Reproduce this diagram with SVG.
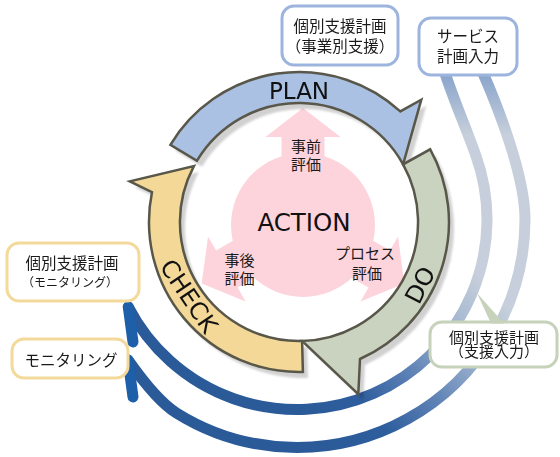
<svg xmlns="http://www.w3.org/2000/svg" width="560" height="457" viewBox="0 0 560 457">
<style>
.seg{stroke:#59574a;stroke-width:2.5;stroke-linejoin:miter}
.shadow{fill:#000;fill-opacity:0.18}
.lat{font-family:"DejaVu Sans","Verdana",sans-serif;fill:#111}
.jp{font-family:"Noto Sans CJK JP","Noto Sans",sans-serif;fill:#1a1a1a;text-anchor:middle}
.box{fill:#fff;stroke-width:3}
.bb{stroke:#9db5de}
.yb{stroke:#f3d99a}
.gb{stroke:#c6d2ba}
.pink{fill:#fdd4dc}
.flow{fill:none;stroke-width:11;stroke-linecap:round}
</style>
<defs>
<linearGradient id="flowGrad" gradientUnits="userSpaceOnUse" x1="500" y1="300" x2="330" y2="450">
<stop offset="0" stop-color="#c6cfdb"/>
<stop offset="0.25" stop-color="#9fb3cf"/>
<stop offset="0.5" stop-color="#5f83b6"/>
<stop offset="0.75" stop-color="#2f5e9e"/>
<stop offset="1" stop-color="#2a5a98"/>
</linearGradient>
<linearGradient id="topFade" gradientUnits="userSpaceOnUse" x1="0" y1="75" x2="0" y2="135">
<stop offset="0" stop-color="#8aa5cc" stop-opacity="1"/>
<stop offset="1" stop-color="#8aa5cc" stop-opacity="0"/>
</linearGradient>
<filter id="blur" x="-10%" y="-10%" width="120%" height="120%"><feGaussianBlur stdDeviation="1.2"/></filter>
<path id="planShape" d="M 170.4 144.8 A 150 150 0 0 1 400.3 111.4 L 421.3 99.7 L 403.1 164.3 A 119 119 0 0 0 197.0 160.7 Z"/>
<path id="doShape" d="M 430.2 149.3 A 150 150 0 0 1 360.0 359.0 L 358.3 394.1 L 302.1 341.0 A 119 119 0 0 0 403.1 164.3 Z"/>
<path id="checkShape" d="M 302.9 371.9 A 150 150 0 0 1 152.0 192.1 L 129.8 181.4 L 193.9 166.1 A 119 119 0 0 0 302.1 341.0 Z"/>
</defs>
<rect width="560" height="457" fill="#fff"/>

<g id="connectors">
<path class="flow" stroke="url(#flowGrad)" d="M 445 73 C 453 98 466 128 475.5 154.5 A 190 190 0 0 1 128.3 307"/>
<path class="flow" stroke="url(#topFade)" d="M 445 73 C 453 98 466 128 475.5 154.5"/>
<path class="flow" stroke="#1d5fa8" d="M 128.3 307 L 133 342"/>
<path class="flow" stroke="url(#flowGrad)" d="M 483 73 C 497 105 525 175 525 219.5 A 228 228 0 0 1 176.2 412.8 C 159.2 402.2 140 377 128 360"/>
<path class="flow" stroke="url(#topFade)" d="M 483 73 C 497 105 525 175 525 219.5"/>
<path class="flow" stroke="#1d5fa8" d="M 128 360 L 133 397"/>
</g>

<g id="action">
<circle class="pink" cx="303" cy="225" r="72"/>
<polygon class="pink" points="303,108 340.5,137 324.5,137 324.5,225 281.5,225 281.5,137 265.5,137"/>
<polygon class="pink" points="404.3,283.5 360.5,301.5 368.5,287.6 292.3,243.6 313.8,206.4 390.0,250.4 398.0,236.5"/>
<polygon class="pink" points="201.7,283.5 245.6,301.5 237.6,287.6 313.8,243.6 292.3,206.4 216.1,250.4 208.0,236.5"/>
<text class="lat" x="304" y="231" font-size="24.5" text-anchor="middle">ACTION</text>
<text class="jp" font-size="15" x="306" y="152.1">事前</text>
<text class="jp" font-size="15" x="306" y="170.1">評価</text>
<text class="jp" font-size="15" x="239.5" y="265.6">事後</text>
<text class="jp" font-size="15" x="239.5" y="283.6">評価</text>
<text class="jp" font-size="15" x="365" y="258.6">プロセス</text>
<text class="jp" font-size="15" x="367" y="278.6">評価</text>
</g>

<g id="shadows" filter="url(#blur)">
<use href="#checkShape" class="shadow" transform="translate(5,6)"/>
<use href="#planShape" class="shadow" transform="translate(5,6)"/>
<use href="#doShape" class="shadow" transform="translate(5,6)"/>
</g>

<g id="check">
<use href="#checkShape" class="seg" fill="#f3d898"/>
<text class="lat" font-size="24" text-anchor="middle" transform="translate(189,296) rotate(56)" y="8.5">CHECK</text>
</g>
<g id="plan">
<use href="#planShape" class="seg" fill="#abc1e3"/>
<text class="lat" x="299" y="99" font-size="23" text-anchor="middle">PLAN</text>
</g>
<g id="do">
<use href="#doShape" class="seg" fill="#cad3bf"/>
<text class="lat" font-size="24" text-anchor="middle" transform="translate(420,285) rotate(-63)" y="8.5">DO</text>
</g>

<g id="box-jigyou">
<rect class="box bb" x="282" y="6" width="116" height="59" rx="12"/>
<text class="jp" font-size="15.5" x="340" y="32.2">個別支援計画</text>
<text class="jp" font-size="15.5" x="340" y="51.7">（事業別支援）</text>
</g>
<g id="box-service">
<rect class="box bb" x="419" y="18" width="98" height="57" rx="12"/>
<text class="jp" font-size="15.5" x="468" y="42.2">サービス</text>
<text class="jp" font-size="15.5" x="468" y="62.2">計画入力</text>
</g>
<g id="box-plan-monitoring">
<rect class="box yb" x="7" y="243" width="132" height="58" rx="12"/>
<text class="jp" font-size="15.5" x="72" y="269.2">個別支援計画</text>
<text class="jp" font-size="12" x="70" y="286.9">（モニタリング）</text>
</g>
<g id="box-monitoring">
<rect class="box yb" x="12" y="339" width="116" height="39" rx="12"/>
<text class="jp" font-size="15.5" x="71" y="366.2">モニタリング</text>
</g>
<g id="box-shien">
<rect class="box gb" x="430" y="322" width="127" height="45" rx="12"/>
<polygon points="477,293 491,323.5 504,323.5" fill="#c6d2ba"/>
<text class="jp" font-size="15" x="494" y="342.6">個別支援計画</text>
<text class="jp" font-size="15" x="494" y="357.1">（支援入力）</text>
</g>
</svg>
